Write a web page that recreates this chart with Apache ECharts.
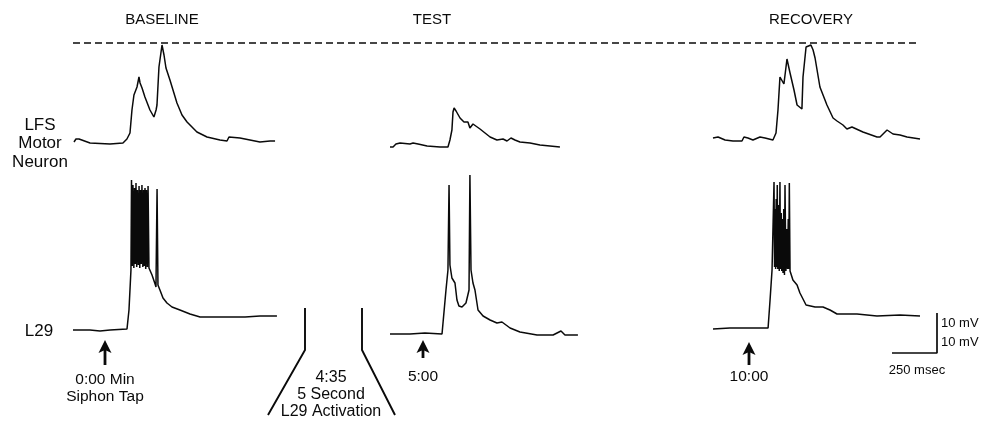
<!DOCTYPE html>
<html><head><meta charset="utf-8">
<script src="https://cdn.jsdelivr.net/npm/echarts@6/dist/echarts.min.js"></script>
<style>html,body{margin:0;padding:0;background:#fff}#c{width:983px;height:421px}</style>
</head><body><div id="c"></div>
<script>
// ---- Text content ----
const conditions = ['BASELINE', 'TEST', 'RECOVERY'];
const lfsLabel = ['LFS', 'Motor', 'Neuron'];
const l29Label = 'L29';
const stimLabels = [['0:00 Min', 'Siphon Tap'], ['5:00'], ['10:00']];
const activationLabel = ['4:35', '5 Second', 'L29 Activation'];
const scaleTimeMs = 250;
const scaleVoltMv = 10;
const scaleLabels = ['10 mV', '10 mV', '250 msec'];

// ---- Traces: [time ms from trace start, mV above resting level] ----
const baselineLFS = [[0,0.5],[11,2],[28,2],[89,0],[200,-0.5],[272,0],[294,2],[311,5],[322,16.5],[333,24],[350,28],[361,33],[367,30],[378,27.5],[394,23],[422,16.5],[444,13],[456,16.5],[461,19],[472,38],[489,49],[500,44],[511,37.5],[533,31.5],[572,20],[600,14],[628,10.5],[683,5.5],[739,3],[811,1.5],[850,1],[861,3],[922,2.5],[1033,0.5],[1089,1],[1100,2],[1117,1]];
const testLFS = [[0,0],[17,0],[33,1.5],[56,2],[111,1.5],[128,2],[156,1.5],[206,0.5],[278,0],[322,0],[333,3.5],[344,8.5],[350,17.5],[356,19.5],[367,18],[389,14.5],[411,12.5],[422,12],[433,12.5],[444,9.5],[461,11.5],[472,12],[500,9],[528,7],[556,5],[594,3.5],[628,4],[650,3],[661,2],[672,4.5],[694,3.5],[722,2.5],[778,2],[833,1],[889,0.5],[944,0]];
const recoveryLFS = [[0,1],[28,1.5],[67,0],[111,-0.5],[161,-0.5],[172,1.5],[194,1],[222,0],[261,1.5],[289,1],[333,0],[350,3.5],[361,15],[372,31.5],[383,31],[394,28],[411,40.5],[428,33.5],[450,25],[467,17.5],[494,15.5],[500,31.5],[517,46.5],[528,47.5],[544,47.5],[556,45],[567,41],[594,26.5],[633,17.5],[667,11],[689,9.5],[722,7.5],[744,5.5],[772,6.5],[833,4],[911,1.5],[928,1.5],[967,5],[1000,3],[1039,2.5],[1078,1.5],[1150,0.5]];
const baselineL29 = [[0,0],[94,0],[150,-0.5],[206,0],[300,0.5],[311,10],[322,30],[325,75],[329,32],[333,72.5],[338,31],[342,71],[346,33],[350,73.5],[354,31.5],[358,70],[363,32.5],[367,72],[371,31],[375,70],[379,33],[383,72.5],[388,31.5],[392,70],[396,32],[400,71],[404,30.5],[408,70],[413,31.5],[417,72],[422,31],[439,27.5],[456,23],[461,21.5],[467,70.5],[472,22.5],[483,20],[500,16],[522,13.5],[550,11.5],[594,10],[650,8],[706,6.5],[789,6.5],[855,6.5],[956,6.5],[1039,7],[1133,7]];
const testL29 = [[0,0],[111,0],[194,0.5],[289,0],[294,1],[311,22],[322,32],[328,74.5],[333,34.5],[344,28],[361,25.5],[372,17],[383,14],[400,13.5],[422,15.5],[433,16.5],[439,22],[444,79.5],[450,32],[461,25.5],[472,22],[489,12],[517,9],[556,7],[594,5.5],[622,6],[667,3],[722,1],[817,-0.5],[906,-0.5],[950,1.5],[972,-0.5],[1044,-0.5]];
const recoveryL29 = [[0,0],[94,0.5],[206,0.5],[306,0.5],[317,14.5],[328,29.5],[339,73.5],[342,31],[345,60],[348,30],[351,65],[354,31],[357,72],[360,30],[364,62],[368,29],[372,73.5],[375,30],[379,58],[382,29],[386,55],[389,28],[393,60],[397,27],[400,72],[405,29],[410,50],[414,30],[418,55],[421,30],[424,73],[428,29],[433,28],[444,24.5],[467,22],[483,18],[517,12],[567,11],[611,11],[650,9.5],[689,7.5],[800,7.5],[911,6.5],[1039,7],[1150,6.5]];

// ---- Layout ----
const PX_PER_MS = 45 / 250;
const PX_PER_MV = 2;
const XMAX = 1200;
const FONT = '"Liberation Sans", Arial, sans-serif';
const INK = '#0a0a0a';
const traces = [
  {data: baselineLFS, left: 74, base: 143, ymin: -10, ymax: 60},
  {data: testLFS, left: 390, base: 147, ymin: -10, ymax: 60},
  {data: recoveryLFS, left: 713, base: 140, ymin: -10, ymax: 60},
  {data: baselineL29, left: 73, base: 330, ymin: -10, ymax: 90},
  {data: testL29, left: 390, base: 334, ymin: -10, ymax: 90},
  {data: recoveryL29, left: 713, base: 329, ymin: -10, ymax: 90}
];

const grid = [], xAxis = [], yAxis = [], series = [];
traces.forEach((t, i) => {
  grid.push({left: t.left, top: t.base - t.ymax * PX_PER_MV, width: XMAX * PX_PER_MS, height: (t.ymax - t.ymin) * PX_PER_MV});
  xAxis.push({type: 'value', gridIndex: i, min: 0, max: XMAX, show: false});
  yAxis.push({type: 'value', gridIndex: i, min: t.ymin, max: t.ymax, show: false});
  series.push({type: 'line', xAxisIndex: i, yAxisIndex: i, data: t.data, symbol: 'none', clip: false,
    lineStyle: {color: INK, width: 1.5}, animation: false});
});
// scale bar grid
const si = traces.length;
grid.push({left: 892, top: 313, width: scaleTimeMs * PX_PER_MS, height: 2 * scaleVoltMv * PX_PER_MV});
xAxis.push({type: 'value', gridIndex: si, min: 0, max: scaleTimeMs, show: false});
yAxis.push({type: 'value', gridIndex: si, min: 0, max: 2 * scaleVoltMv, show: false});
series.push({type: 'line', xAxisIndex: si, yAxisIndex: si, symbol: 'none', clip: false, animation: false,
  data: [[scaleTimeMs, 2 * scaleVoltMv], [scaleTimeMs, 0], [0, 0]],
  lineStyle: {color: INK, width: 1.7}});

function txt(text, x, y, size, align) {
  return {type: 'text', silent: true, style: {text: text, x: x, y: y, fill: INK,
    font: size + 'px ' + FONT, textAlign: align || 'center', textVerticalAlign: 'middle'}};
}
function arrow(x, tip, bottom) {
  return [
    {type: 'line', silent: true, shape: {x1: x, y1: tip + 8, x2: x, y2: bottom}, style: {stroke: INK, lineWidth: 2.8}},
    {type: 'polygon', silent: true, shape: {points: [[x, tip], [x - 6.5, tip + 13], [x, tip + 10], [x + 6.5, tip + 13]]}, style: {fill: INK}}
  ];
}
const graphic = [];
const titleX = [162, 432, 811];
conditions.forEach((c, i) => graphic.push(txt(c, titleX[i], 20, 15)));
graphic.push({type: 'line', silent: true, shape: {x1: 73, y1: 43, x2: 920, y2: 43}, style: {stroke: INK, lineWidth: 1.3, lineDash: [7, 4]}});
lfsLabel.forEach((s, i) => graphic.push(txt(s, 40, 125 + i * 18.5, 17)));
graphic.push(txt(l29Label, 39, 331, 17));
const stimX = [105, 423, 749];
const stimTip = [340, 340, 342];
const stimBottom = [365, 358, 365];
const stimY = [380, 377, 377];
stimLabels.forEach((lines, i) => {
  graphic.push(...arrow(stimX[i], stimTip[i], stimBottom[i]));
  lines.forEach((s, j) => graphic.push(txt(s, stimX[i], stimY[i] + j * 17, 15.5)));
});
graphic.push({type: 'polyline', silent: true, shape: {points: [[305, 308], [305, 350], [268, 415]]}, style: {stroke: INK, lineWidth: 1.9, fill: null}});
graphic.push({type: 'polyline', silent: true, shape: {points: [[362, 308], [362, 350], [395, 415]]}, style: {stroke: INK, lineWidth: 1.9, fill: null}});
activationLabel.forEach((s, j) => graphic.push(txt(s, 331, 378 + j * 17, 16)));
graphic.push(txt(scaleLabels[0], 941, 323, 13, 'left'));
graphic.push(txt(scaleLabels[1], 941, 342, 13, 'left'));
graphic.push(txt(scaleLabels[2], 917, 370, 13));

const chart = echarts.init(document.getElementById('c'), null, {renderer: 'canvas'});
chart.setOption({animation: false, backgroundColor: '#fff', grid, xAxis, yAxis, series, graphic});
</script></body></html>
